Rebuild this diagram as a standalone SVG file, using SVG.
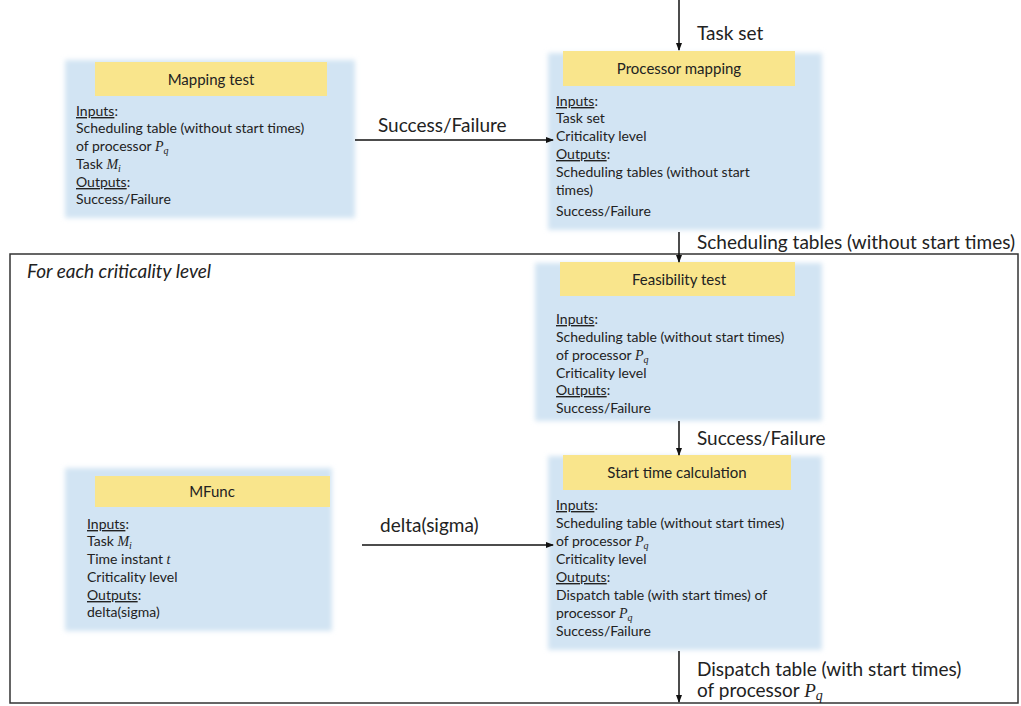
<svg xmlns="http://www.w3.org/2000/svg" width="1021" height="706" viewBox="0 0 1021 706">
<style>
  .box { fill: #d2e4f3; }
  .hdr { fill: #f9e58c; }
  .title { font-family: Lato, "Liberation Sans", sans-serif; font-size: 15px; fill: #222; text-anchor: middle; }
  .body { font-family: Lato, "Liberation Sans", sans-serif; font-size: 14px; fill: #222; }
  .u { text-decoration: underline; }
  .m { font-family: "Liberation Serif", serif; font-style: italic; }
  .lbl { font-family: Lato, "Liberation Sans", sans-serif; font-size: 19px; fill: #222; }
  .conn { stroke: #111; stroke-width: 1.5; fill: none; marker-end: url(#arr); }
</style>
<defs>
  <marker id="arr" markerWidth="8" markerHeight="8" refX="7" refY="4" orient="auto" markerUnits="userSpaceOnUse">
    <path d="M0,1 L8,4 L0,7 Z" fill="#111"/>
  </marker>
  <filter id="soft" x="-5%" y="-5%" width="110%" height="110%">
    <feGaussianBlur stdDeviation="2.5"/>
  </filter>
</defs>
<rect width="1021" height="706" fill="#fff"/>

<g id="frame">
  <rect x="10" y="254" width="1008" height="449" fill="none" stroke="#333" stroke-width="1.5"/>
  <text x="27" y="278" class="lbl" style="font-style:italic">For each criticality level</text>
</g>

<g id="mapping-test">
  <rect class="box" x="65" y="60" width="290" height="158" filter="url(#soft)"/>
  <rect class="hdr" x="95" y="62" width="232" height="34"/>
  <text class="title" x="211" y="85">Mapping test</text>
  <text class="body" x="76" y="116"><tspan class="u">Inputs</tspan>:</text>
  <text class="body" x="76" y="133">Scheduling table (without start times)</text>
  <text class="body" x="76" y="151">of processor <tspan class="m">P<tspan dy="3" font-size="10">q</tspan></tspan></text>
  <text class="body" x="76" y="169">Task <tspan class="m">M<tspan dy="3" font-size="10">i</tspan></tspan></text>
  <text class="body" x="76" y="187"><tspan class="u">Outputs</tspan>:</text>
  <text class="body" x="76" y="204">Success/Failure</text>
</g>

<g id="processor-mapping">
  <rect class="box" x="548" y="53" width="274" height="177" filter="url(#soft)"/>
  <rect class="hdr" x="563" y="51" width="232" height="35"/>
  <text class="title" x="679" y="74">Processor mapping</text>
  <text class="body" x="556" y="106"><tspan class="u">Inputs</tspan>:</text>
  <text class="body" x="556" y="123">Task set</text>
  <text class="body" x="556" y="141">Criticality level</text>
  <text class="body" x="556" y="159"><tspan class="u">Outputs</tspan>:</text>
  <text class="body" x="556" y="177">Scheduling tables (without start</text>
  <text class="body" x="556" y="195">times)</text>
  <text class="body" x="556" y="216">Success/Failure</text>
</g>

<g id="feasibility-test">
  <rect class="box" x="535" y="263" width="287" height="158" filter="url(#soft)"/>
  <rect class="hdr" x="560" y="262" width="235" height="34"/>
  <text class="title" x="679" y="285">Feasibility test</text>
  <text class="body" x="556" y="324"><tspan class="u">Inputs</tspan>:</text>
  <text class="body" x="556" y="342">Scheduling table (without start times)</text>
  <text class="body" x="556" y="360">of processor <tspan class="m">P<tspan dy="3" font-size="10">q</tspan></tspan></text>
  <text class="body" x="556" y="378">Criticality level</text>
  <text class="body" x="556" y="395"><tspan class="u">Outputs</tspan>:</text>
  <text class="body" x="556" y="413">Success/Failure</text>
</g>

<g id="start-time-calculation">
  <rect class="box" x="548" y="456" width="274" height="194" filter="url(#soft)"/>
  <rect class="hdr" x="563" y="455" width="228" height="35"/>
  <text class="title" x="677" y="478">Start time calculation</text>
  <text class="body" x="556" y="510"><tspan class="u">Inputs</tspan>:</text>
  <text class="body" x="556" y="528">Scheduling table (without start times)</text>
  <text class="body" x="556" y="546">of processor <tspan class="m">P<tspan dy="3" font-size="10">q</tspan></tspan></text>
  <text class="body" x="556" y="564">Criticality level</text>
  <text class="body" x="556" y="582"><tspan class="u">Outputs</tspan>:</text>
  <text class="body" x="556" y="600">Dispatch table (with start times) of</text>
  <text class="body" x="556" y="618">processor <tspan class="m">P<tspan dy="3" font-size="10">q</tspan></tspan></text>
  <text class="body" x="556" y="636">Success/Failure</text>
</g>

<g id="mfunc">
  <rect class="box" x="65" y="468" width="267" height="163" filter="url(#soft)"/>
  <rect class="hdr" x="95" y="476" width="235" height="31"/>
  <text class="title" x="212" y="497">MFunc</text>
  <text class="body" x="87" y="529"><tspan class="u">Inputs</tspan>:</text>
  <text class="body" x="87" y="546">Task <tspan class="m">M<tspan dy="3" font-size="10">i</tspan></tspan></text>
  <text class="body" x="87" y="564">Time instant <tspan class="m">t</tspan></text>
  <text class="body" x="87" y="582">Criticality level</text>
  <text class="body" x="87" y="600"><tspan class="u">Outputs</tspan>:</text>
  <text class="body" x="87" y="617">delta(sigma)</text>
</g>

<g id="connectors">
  <line class="conn" x1="679" y1="0" x2="679" y2="50"/>
  <text class="lbl" x="697" y="40">Task set</text>
  <line class="conn" x1="355" y1="140" x2="553" y2="140"/>
  <text class="lbl" x="378" y="132">Success/Failure</text>
  <line class="conn" x1="679" y1="232" x2="679" y2="262"/>
  <text class="lbl" x="697" y="249">Scheduling tables (without start times)</text>
  <line class="conn" x1="679" y1="421" x2="679" y2="455"/>
  <text class="lbl" x="697" y="445">Success/Failure</text>
  <line class="conn" x1="362" y1="545" x2="553" y2="545"/>
  <text class="lbl" x="380" y="532">delta(sigma)</text>
  <line class="conn" x1="679" y1="651" x2="679" y2="702"/>
  <text class="lbl" x="697" y="676">Dispatch table (with start times)</text>
  <text class="lbl" x="697" y="697">of processor <tspan class="m">P<tspan dy="3" font-size="14">q</tspan></tspan></text>
</g>
</svg>
